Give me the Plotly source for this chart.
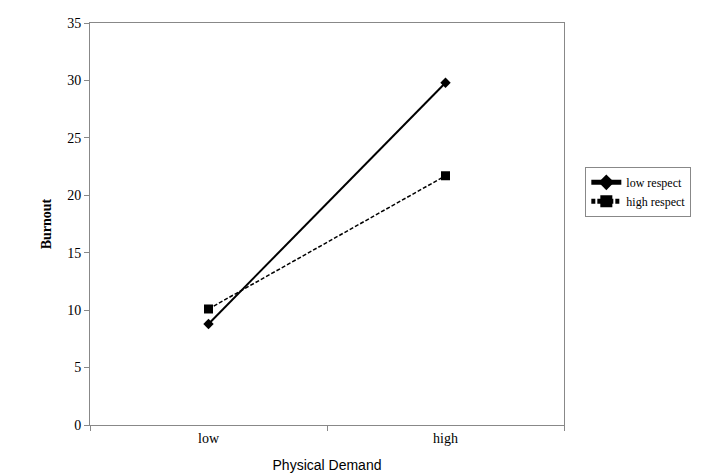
import plotly.graph_objects as go

demand = ["low", "high"]
low_respect = [8.8, 29.8]
high_respect = [10.1, 21.7]

fig = go.Figure()
fig.add_trace(go.Scatter(x=demand, y=low_respect, name="low respect", mode="lines+markers",
                         line=dict(color="black", width=2),
                         marker=dict(symbol="diamond", size=8, color="black")))
fig.add_trace(go.Scatter(x=demand, y=high_respect, name="high respect", mode="lines+markers",
                         line=dict(color="black", width=1.5, dash="4px,2px"),
                         marker=dict(symbol="square", size=9, color="black")))

fig.update_layout(
    width=701, height=474,
    margin=dict(l=82, r=145, t=15, b=57, autoexpand=False),
    plot_bgcolor="white", paper_bgcolor="white",
    font=dict(family="Liberation Serif", color="black", size=13),
    legend=dict(x=1.045, y=0.58, xanchor="left", yanchor="middle",
                bordercolor="#888", borderwidth=1, font=dict(size=12),
                tracegroupgap=22, itemsizing="constant"),
    xaxis=dict(type="category", range=[-0.5, 1.5], tickson="boundaries", automargin=False,
               ticks="outside", ticklen=5, tickcolor="#888",
               showline=True, linecolor="#888", mirror=True, showgrid=False,
               tickfont=dict(size=14),
               title=dict(text="Physical Demand", font=dict(family="Liberation Sans", size=14))),
    yaxis=dict(range=[0, 35], dtick=5, ticks="outside", ticklen=5, tickcolor="#888",
               showline=True, linecolor="#888", mirror=True, showgrid=False, automargin=False,
               zeroline=False, tickfont=dict(size=14),
               title=dict(text="<b>Burnout</b>", font=dict(size=14), standoff=12)),
)

fig.write_html("out.html")
